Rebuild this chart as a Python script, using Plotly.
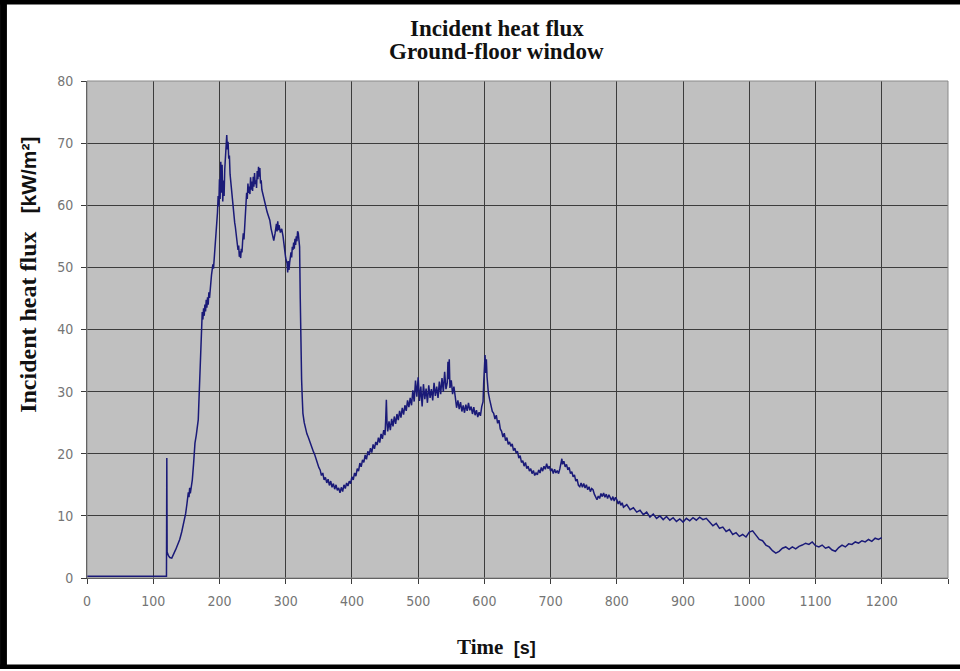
import plotly.graph_objects as go

# ---- data (time [s], incident heat flux [kW/m2]) ----
t_pre = [0, 60, 120, 120.5, 121, 123, 125, 128, 131, 134, 137, 140, 143, 146, 149, 151, 153, 154, 155, 156, 157, 159, 161, 163, 165, 167, 168, 169, 170, 171, 172]
q_pre = [0.3, 0.3, 0.3, 19.3, 4.2, 3.6, 3.3, 3.2, 3.8, 4.6, 5.4, 6.2, 7.4, 8.8, 10.4, 12.0, 13.8, 13.0, 14.5, 13.6, 14.2, 15.8, 18.5, 21.7, 23.0, 24.8, 25.5, 28.5, 31.5, 34.0, 38.0]

t_peak = [173, 174, 175, 176, 177, 178, 179, 180, 181, 182, 183, 184, 185, 186, 187, 188, 189, 190, 191, 192, 193, 194, 195, 196, 197, 198, 199, 200,
          201, 202, 203, 204, 205, 206, 207, 208, 209, 210, 211, 212, 213, 214, 215, 216, 217, 218, 219, 220, 221, 222, 223, 224, 225, 226, 227, 228, 229, 230,
          231, 232, 233, 234, 235, 236, 237, 238, 239, 240, 241, 242, 243, 244, 245, 246, 247, 248, 249, 250, 251, 252, 253, 254, 255, 256, 257, 258, 259, 260,
          261, 262, 263, 264, 266, 268, 270, 272, 274, 276, 278, 280, 282, 284, 286, 287, 288, 289, 290, 292, 294, 296, 298, 300,
          302, 303, 304, 305, 306, 307, 308, 309, 310, 311, 312, 313, 314, 315, 316, 317, 318, 319, 320, 321]
q_peak = [41.5, 42.8, 41.6, 43.4, 42.2, 44.0, 42.9, 44.8, 43.5, 45.2, 44.0, 46.0, 45.1, 46.9, 47.5, 48.8, 49.6, 50.5, 49.8, 51.2, 52.5, 54.8, 56.5, 58.0, 58.8, 61.5, 59.8, 64.2,
          61.0, 67.0, 62.0, 66.5, 60.6, 64.0, 61.5, 65.8, 67.5, 69.2, 71.3, 69.0, 70.2, 67.5, 68.0, 65.0, 63.8, 62.0, 61.2, 59.7, 59.0, 58.0, 57.2, 56.5, 55.5, 54.8, 53.6, 52.8, 53.5, 51.7,
          52.6, 51.5, 53.0, 52.4, 54.2, 55.5, 54.5, 56.8, 58.0, 60.2, 62.0, 61.0, 63.5, 62.0, 63.0, 61.8, 64.5, 62.5, 63.8, 62.3, 64.6, 63.0, 65.2, 63.4, 64.0, 62.8, 65.5, 64.2, 66.2, 64.6,
          66.0, 63.5, 64.0, 62.5, 61.4, 60.9, 59.8, 58.9, 58.2, 57.6, 56.2, 55.0, 54.3, 55.5, 57.0, 55.8, 57.4, 56.0, 56.8, 55.6, 56.2, 55.0, 53.2, 51.5,
          50.7, 49.2, 51.0, 49.6, 50.8, 51.8, 52.4, 51.6, 53.3, 52.8, 54.0, 53.0, 54.6, 53.6, 55.0, 54.2, 55.8, 55.5, 54.0, 53.3]

t_mid = [322, 323, 324, 325, 326, 328, 330, 332, 334, 336, 338, 340, 342, 344, 346, 348, 350, 352, 354, 356, 358, 360, 362, 364, 366, 368, 370, 372, 374, 376, 378, 380,
         382, 384, 386, 388, 390, 392, 394, 396, 398, 400, 402, 404, 406, 408, 410, 412, 414, 416, 418, 420, 422, 424, 426, 428, 430, 432, 434, 436, 438, 440,
         442, 444, 446, 448, 450, 451, 452, 453, 454, 456, 458, 460, 462, 464, 466, 468, 470, 472, 474, 476, 478, 480, 482, 484, 486, 488, 490, 492, 494, 496, 498, 500,
         502, 504, 506, 508, 510, 512, 514, 516, 518, 520, 522, 524, 526, 528, 530, 532, 534, 536, 538, 540, 542, 544, 545, 546, 547, 548, 550,
         552, 554, 556, 557, 558, 560, 562, 564, 566, 568, 570, 572, 574, 576, 578, 580, 582, 584, 586, 588, 590, 592, 594, 596, 598, 599]
q_mid = [45.0, 36.0, 32.0, 29.0, 26.5, 25.0, 24.0, 23.2, 22.7, 22.0, 21.3, 20.6, 20.3, 19.8, 19.0, 18.5, 17.8, 17.4, 16.5, 16.9, 15.8, 16.2, 15.3, 15.9, 14.9, 15.6, 14.6, 15.2, 14.3, 15.0, 14.1, 14.5,
         13.7, 14.6, 13.9, 15.0, 14.4, 15.3, 14.8, 15.6, 15.2, 16.3, 15.8, 16.9, 16.4, 17.6, 17.2, 18.5, 17.9, 19.0, 18.6, 19.8, 19.1, 20.4, 19.8, 20.9, 20.2, 21.5, 20.8, 21.9, 21.4, 22.6,
         21.8, 23.2, 22.4, 23.8, 23.0, 25.5, 28.7, 25.0, 23.6, 25.2, 23.8, 25.6, 24.4, 26.0, 24.8, 26.4, 25.4, 26.9, 25.8, 27.4, 26.3, 27.8, 26.9, 28.6, 27.5, 29.0, 27.8, 30.2, 28.4, 31.8, 29.2, 32.3,
         28.5, 30.8, 27.6, 31.2, 28.8, 30.5, 28.2, 31.0, 29.0, 30.4, 28.6, 31.4, 29.3, 30.8, 29.0, 31.6, 29.6, 32.2, 30.0, 33.2, 30.4, 31.5, 34.8, 32.0, 35.2, 30.6, 31.8,
         29.6, 30.8, 29.2, 28.0, 27.4, 28.6, 27.2, 28.3, 26.8, 27.8, 26.6, 27.9, 26.9, 28.2, 27.0, 27.6, 26.4, 27.5, 26.2, 27.0, 25.9, 26.7, 26.1, 27.6, 28.4, 31.5]

t_late = [600, 601, 602, 603, 604, 605, 606, 608, 610, 612, 614, 616, 618, 620, 622, 624, 626, 628, 630, 632, 634, 636, 638, 640, 642, 644, 646, 648, 650,
          652, 654, 656, 658, 660, 662, 664, 666, 668, 670, 672, 674, 676, 678, 680, 682, 684, 686, 688, 690, 692, 694, 696, 698, 700,
          702, 704, 706, 708, 710, 712, 714, 716, 717, 718, 720, 722, 724, 726, 728, 730, 732, 734, 736, 738, 740, 742, 744, 746, 748, 750,
          752, 754, 756, 758, 760, 762, 764, 766, 768, 770, 772, 774, 776, 778, 780, 782, 784, 786, 788, 790, 792, 794, 796, 798, 800,
          802, 804, 806, 808, 810, 815, 820, 825, 830, 835, 840, 845, 850, 855, 860, 865, 870, 875, 880, 885, 890, 895, 900]
q_late = [34.5, 35.9, 33.0, 35.2, 32.4, 31.0, 29.8, 28.7, 27.8, 26.8, 26.5, 25.6, 26.2, 24.9, 25.4, 24.0, 23.6, 22.7, 23.3, 22.1, 22.6, 21.5, 21.9, 21.2, 21.6, 20.5, 20.9, 20.1, 20.4,
          19.3, 19.7, 18.6, 18.9, 18.0, 18.6, 17.6, 18.0, 17.2, 17.6, 16.8, 17.3, 16.5, 16.9, 16.6, 17.4, 16.9, 17.8, 17.2, 18.0, 17.5, 18.4, 17.6, 18.0, 17.2,
          17.6, 16.8, 17.5, 16.9, 17.3, 16.8, 17.6, 18.6, 19.2, 18.3, 18.8, 17.9, 18.3, 17.4, 17.8, 16.8, 17.1, 16.3, 16.6, 15.6, 15.9, 14.9, 14.7, 15.3, 14.6, 15.2,
          14.5, 15.0, 14.2, 14.7, 13.9, 14.4, 14.2, 13.5, 12.9, 12.6, 13.2, 12.8, 13.6, 13.1, 13.7, 13.0, 13.5, 12.8, 13.4, 13.0, 12.5, 13.1, 12.4, 13.0, 12.6,
          11.9, 12.4, 11.7, 12.1, 11.4, 11.8, 11.0, 11.3, 10.6, 10.9, 10.2, 10.6, 9.8, 10.3, 9.6, 10.0, 9.4, 9.9, 9.3, 9.7, 9.1, 9.5, 9.0]

t_tail = [905, 910, 915, 920, 925, 930, 935, 940, 945, 950, 955, 960, 965, 970, 975, 980, 985, 990, 995, 1000,
          1005, 1010, 1015, 1020, 1025, 1030, 1035, 1040, 1045, 1050, 1055, 1060, 1065, 1070, 1075, 1080, 1085, 1090, 1095, 1100,
          1105, 1110, 1115, 1120, 1125, 1130, 1135, 1140, 1145, 1150, 1155, 1160, 1165, 1170, 1175, 1180, 1185, 1190, 1195, 1200]
q_tail = [9.6, 9.2, 9.7, 9.3, 9.8, 9.4, 9.6, 9.0, 8.4, 8.8, 8.0, 8.2, 7.5, 7.8, 7.0, 7.3, 6.7, 7.0, 6.6, 7.4,
          7.6, 6.9, 6.2, 6.0, 5.3, 5.0, 4.4, 4.0, 4.3, 4.8, 5.0, 4.6, 5.0, 4.7, 5.1, 5.3, 5.6, 5.4, 5.8, 5.2,
          5.0, 5.3, 4.8, 5.0, 4.5, 4.3, 4.9, 5.3, 5.0, 5.5, 5.4, 5.8, 5.6, 6.0, 5.8, 6.2, 5.9, 6.4, 6.2, 6.5]

x_ticks = [0, 100, 200, 300, 400, 500, 600, 700, 800, 900, 1000, 1100, 1200, 1300]
y_ticks = [0, 10, 20, 30, 40, 50, 60, 70, 80]

title_lines = ["Incident heat flux", "Ground-floor window"]
x_title = ("Time", "[s]")
y_title = ("Incident heat flux", "[kW/m²]")

time_s = t_pre + t_peak + t_mid + t_late + t_tail
flux = q_pre + q_peak + q_mid + q_late + q_tail

fig = go.Figure()
fig.add_trace(go.Scatter(x=time_s, y=flux, mode="lines",
                         line=dict(color="#1a1a78", width=1.5),
                         showlegend=False, hoverinfo="x+y"))

tick_font = dict(family="Liberation Sans Narrow, Arial Narrow, DejaVu Sans Condensed, sans-serif",
                 size=14, color="#757575")
serif_bold = "Liberation Serif, Times New Roman, serif"
sans_span = '<span style="font-family:Liberation Sans, Arial, sans-serif; font-size:{}px">{}</span>'

fig.update_layout(
    width=960, height=671,
    margin=dict(l=87, r=12, t=81, b=93),
    paper_bgcolor="white",
    plot_bgcolor="#c0c0c0",
    xaxis=dict(range=[0, 1300], tickvals=x_ticks, ticktext=[str(v) for v in x_ticks],
               showgrid=True, gridcolor="#3c3c3c", gridwidth=1,
               showline=True, linecolor="#3c3c3c", linewidth=1,
               ticks="outside", ticklen=5, tickcolor="#3c3c3c",
               tickfont=tick_font, ticklabelstandoff=5, zeroline=False),
    yaxis=dict(range=[0, 80], tickvals=y_ticks, ticktext=[str(v) for v in y_ticks],
               showgrid=True, gridcolor="#3c3c3c", gridwidth=1,
               showline=True, linecolor="#3c3c3c", linewidth=1,
               ticks="outside", ticklen=5, tickcolor="#3c3c3c",
               tickfont=tick_font, ticklabelstandoff=5, zeroline=False),
    annotations=[
        dict(text="<b>" + title_lines[0] + "</b>", xref="paper", yref="paper",
             x=0.476, y=1.1066, xanchor="center", yanchor="middle", showarrow=False,
             font=dict(family=serif_bold, size=23, color="#111111")),
        dict(text="<b>" + title_lines[1] + "</b>", xref="paper", yref="paper",
             x=0.476, y=1.0584, xanchor="center", yanchor="middle", showarrow=False,
             font=dict(family=serif_bold, size=23, color="#111111")),
        dict(text="<b>" + x_title[0] + "  " + sans_span.format(18, x_title[1]) + "</b>",
             xref="paper", yref="paper",
             x=0.476, y=-0.139, xanchor="center", yanchor="middle", showarrow=False,
             font=dict(family=serif_bold, size=21, color="#111111")),
        dict(text="<b>" + y_title[0] + "   " + sans_span.format(21, y_title[1]) + "</b>",
             xref="paper", yref="paper",
             x=-0.0685, y=0.61, xanchor="center", yanchor="middle", showarrow=False, textangle=-90,
             font=dict(family=serif_bold, size=24, color="#111111")),
    ],
    shapes=[
        # grey plot-area frame
        dict(type="rect", xref="paper", yref="paper", x0=0, y0=0, x1=1, y1=1,
             line=dict(color="#8a8a8a", width=1)),
        # black outer frame (left, top, bottom)
        dict(type="rect", xref="paper", yref="paper", x0=-0.1010, x1=-0.0930, y0=-0.183, y1=1.163,
             fillcolor="black", line=dict(width=0)),
        dict(type="rect", xref="paper", yref="paper", x0=-0.1010, x1=1.0140, y0=1.154, y1=1.163,
             fillcolor="black", line=dict(width=0)),
        dict(type="rect", xref="paper", yref="paper", x0=-0.1010, x1=1.0140, y0=-0.183, y1=-0.174,
             fillcolor="black", line=dict(width=0)),
    ],
)

fig.write_html("out.html", config={"displayModeBar": False},
               post_script="document.body.style.margin='0px';document.body.style.overflow='hidden';")
